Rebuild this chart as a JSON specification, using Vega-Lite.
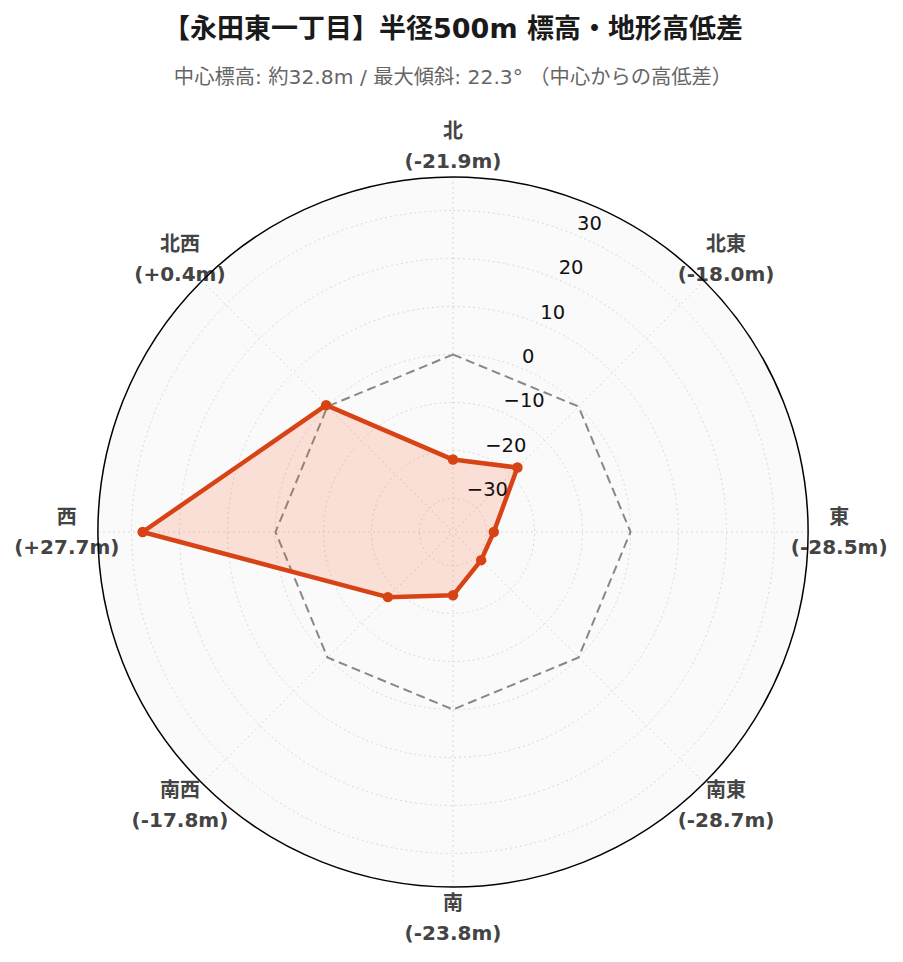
{
  "$schema": "https://vega.github.io/schema/vega-lite/v6.json",
  "width": 710,
  "height": 710,
  "autosize": {"type": "none"},
  "padding": {"left": 98, "top": 177, "right": 95, "bottom": 75},
  "background": "white",
  "config": {"view": {"stroke": null}},
  "title": {
    "text": "【永田東一丁目】半径500m 標高・地形高低差",
    "subtitle": "中心標高: 約32.8m / 最大傾斜: 22.3° （中心からの高低差）",
    "anchor": "middle",
    "font": "DejaVu Sans, Noto Sans CJK JP",
    "fontSize": 27,
    "fontWeight": "bold",
    "color": "#1a1a1a",
    "subtitleFont": "DejaVu Sans, Noto Sans CJK JP",
    "subtitleFontSize": 20.3,
    "subtitleColor": "#666666",
    "subtitlePadding": 24,
    "offset": 33
  },
  "datasets": {
    "dirs": [
      {"dir": "北", "bearing": 0, "value": -21.9, "label": "北\n(-21.9m)"},
      {"dir": "北東", "bearing": 45, "value": -18.0, "label": "北東\n(-18.0m)"},
      {"dir": "東", "bearing": 90, "value": -28.5, "label": "東\n(-28.5m)"},
      {"dir": "南東", "bearing": 135, "value": -28.7, "label": "南東\n(-28.7m)"},
      {"dir": "南", "bearing": 180, "value": -23.8, "label": "南\n(-23.8m)"},
      {"dir": "南西", "bearing": 225, "value": -17.8, "label": "南西\n(-17.8m)"},
      {"dir": "西", "bearing": 270, "value": 27.7, "label": "西\n(+27.7m)"},
      {"dir": "北西", "bearing": 315, "value": 0.4, "label": "北西\n(+0.4m)"}
    ],
    "zero": [
      {"bearing": 0, "value": 0},
      {"bearing": 45, "value": 0},
      {"bearing": 90, "value": 0},
      {"bearing": 135, "value": 0},
      {"bearing": 180, "value": 0},
      {"bearing": 225, "value": 0},
      {"bearing": 270, "value": 0},
      {"bearing": 315, "value": 0}
    ],
    "ticks": [
      {"value": -30},
      {"value": -20},
      {"value": -10},
      {"value": 0},
      {"value": 10},
      {"value": 20},
      {"value": 30}
    ],
    "edge": [{"value": 37}]
  },
  "layer": [
    {
      "data": {"name": "edge"},
      "mark": {"type": "arc", "theta": 0, "theta2": 6.2832, "fill": "#fafafa"},
      "encoding": {
        "radius": {"field": "value", "type": "quantitative", "scale": {"type": "linear", "domain": [-37, 37], "range": [0, 355], "zero": false}},
        "radius2": {"datum": -37}
      }
    },
    {
      "data": {"name": "ticks"},
      "mark": {"type": "arc", "theta": 0, "theta2": 6.2832, "fill": "transparent", "stroke": "#d9d9d9", "strokeWidth": 1, "strokeDash": [2, 3]},
      "encoding": {
        "radius": {"field": "value", "type": "quantitative", "scale": {"type": "linear", "domain": [-37, 37], "range": [0, 355], "zero": false}},
        "radius2": {"datum": -37}
      }
    },
    {
      "data": {"name": "dirs"},
      "transform": [
        {"calculate": "74*sin(datum.bearing*PI/180)", "as": "ex"},
        {"calculate": "74*cos(datum.bearing*PI/180)", "as": "ey"}
      ],
      "mark": {"type": "rule", "stroke": "#d9d9d9", "strokeWidth": 1, "strokeDash": [2, 3]},
      "encoding": {
        "x": {"field": "ex", "type": "quantitative", "scale": {"domain": [-74, 74], "nice": false, "zero": false}, "axis": null},
        "y": {"field": "ey", "type": "quantitative", "scale": {"domain": [-74, 74], "nice": false, "zero": false}, "axis": null},
        "x2": {"datum": 0},
        "y2": {"datum": 0}
      }
    },
    {
      "data": {"name": "zero"},
      "transform": [
        {"calculate": "(datum.value+37)*sin(datum.bearing*PI/180)", "as": "px"},
        {"calculate": "(datum.value+37)*cos(datum.bearing*PI/180)", "as": "py"}
      ],
      "mark": {"type": "line", "interpolate": "linear-closed", "stroke": "#888888", "strokeWidth": 2, "strokeDash": [9, 5]},
      "encoding": {
        "x": {"field": "px", "type": "quantitative", "scale": {"domain": [-74, 74], "nice": false, "zero": false}, "axis": null},
        "y": {"field": "py", "type": "quantitative", "scale": {"domain": [-74, 74], "nice": false, "zero": false}, "axis": null},
        "order": {"field": "bearing", "type": "quantitative"}
      }
    },
    {
      "data": {"name": "dirs"},
      "transform": [
        {"calculate": "(datum.value+37)*sin(datum.bearing*PI/180)", "as": "px"},
        {"calculate": "(datum.value+37)*cos(datum.bearing*PI/180)", "as": "py"}
      ],
      "mark": {"type": "line", "interpolate": "linear-closed", "stroke": "#d84315", "strokeWidth": 4.5, "fill": "#ff5722", "fillOpacity": 0.16, "strokeJoin": "round"},
      "encoding": {
        "x": {"field": "px", "type": "quantitative", "scale": {"domain": [-74, 74], "nice": false, "zero": false}, "axis": null},
        "y": {"field": "py", "type": "quantitative", "scale": {"domain": [-74, 74], "nice": false, "zero": false}, "axis": null},
        "order": {"field": "bearing", "type": "quantitative"}
      }
    },
    {
      "data": {"name": "dirs"},
      "transform": [
        {"calculate": "(datum.value+37)*sin(datum.bearing*PI/180)", "as": "px"},
        {"calculate": "(datum.value+37)*cos(datum.bearing*PI/180)", "as": "py"}
      ],
      "mark": {"type": "point", "filled": true, "shape": "circle", "size": 110, "color": "#d84315", "opacity": 1},
      "encoding": {
        "x": {"field": "px", "type": "quantitative", "scale": {"domain": [-74, 74], "nice": false, "zero": false}, "axis": null},
        "y": {"field": "py", "type": "quantitative", "scale": {"domain": [-74, 74], "nice": false, "zero": false}, "axis": null}
      }
    },
    {
      "data": {"name": "ticks"},
      "transform": [
        {"calculate": "(datum.value+37)*sin(22.5*PI/180)", "as": "tx"},
        {"calculate": "(datum.value+37)*cos(22.5*PI/180)", "as": "ty"}
      ],
      "mark": {"type": "text", "align": "left", "baseline": "bottom", "dx": 1, "dy": -1, "font": "DejaVu Sans", "fontSize": 19.5, "color": "#111111"},
      "encoding": {
        "x": {"field": "tx", "type": "quantitative", "scale": {"domain": [-74, 74], "nice": false, "zero": false}, "axis": null},
        "y": {"field": "ty", "type": "quantitative", "scale": {"domain": [-74, 74], "nice": false, "zero": false}, "axis": null},
        "text": {"field": "value", "type": "quantitative", "format": "d"}
      }
    },
    {
      "data": {"name": "dirs"},
      "transform": [
        {"calculate": "80.5*sin(datum.bearing*PI/180)", "as": "lx"},
        {"calculate": "80.5*cos(datum.bearing*PI/180)", "as": "ly"}
      ],
      "mark": {"type": "text", "align": "center", "baseline": "middle", "lineBreak": "\n", "lineHeight": 30, "dy": -14, "font": "DejaVu Sans, Noto Sans CJK JP", "fontWeight": "bold", "fontSize": 20, "color": "#444444"},
      "encoding": {
        "x": {"field": "lx", "type": "quantitative", "scale": {"domain": [-74, 74], "nice": false, "zero": false}, "axis": null},
        "y": {"field": "ly", "type": "quantitative", "scale": {"domain": [-74, 74], "nice": false, "zero": false}, "axis": null},
        "text": {"field": "label", "type": "nominal"}
      }
    },
    {
      "data": {"name": "edge"},
      "mark": {"type": "arc", "theta": 0, "theta2": 6.2832, "fill": "transparent", "stroke": "#000000", "strokeWidth": 1.5},
      "encoding": {
        "radius": {"field": "value", "type": "quantitative", "scale": {"type": "linear", "domain": [-37, 37], "range": [0, 355], "zero": false}},
        "radius2": {"datum": -37}
      }
    }
  ]
}
